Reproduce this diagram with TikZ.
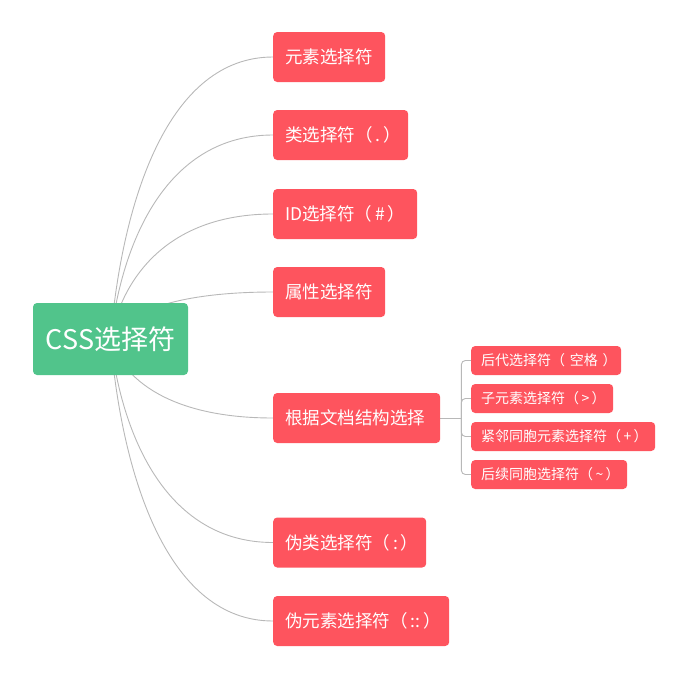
\documentclass[tikz,border=0pt]{standalone}
\usepackage{fontspec}
\setmainfont{Noto Sans CJK SC}
\usetikzlibrary{calc}
\definecolor{nodered}{RGB}{254,84,94}
\definecolor{rootgreen}{RGB}{81,196,139}
\definecolor{linegray}{RGB}{184,184,184}
\pgfdeclarelayer{bg}
\pgfsetlayers{bg,main}
\begin{document}
\begin{tikzpicture}[x=1pt,y=-1pt,
  rootbox/.style={fill=rootgreen,text=white,rounded corners=4pt,minimum width=155pt,minimum height=72pt,inner sep=0pt,font=\fontsize{27}{30}\selectfont},
  mainbox/.style={fill=nodered,text=white,rounded corners=4pt,minimum height=50pt,inner xsep=12pt,inner ysep=0pt,align=left,anchor=west,font=\fontsize{17.5}{20}\selectfont},
  subbox/.style={fill=nodered,text=white,rounded corners=4pt,minimum height=29pt,inner xsep=10pt,inner ysep=0pt,align=left,anchor=west,font=\fontsize{14}{16}\selectfont},
  conn/.style={draw=linegray,line width=0.9pt}]
\useasboundingbox (0,0) rectangle (691,683);
\node[rootbox] (root) at (110.5,339) {CSS选择符};
\node[mainbox,text width=88pt] (b1) at (273,57) {元素选择符};
\node[mainbox,text width=111pt] (b2) at (273,135) {类选择符（\,.\,）};
\node[mainbox,text width=120pt] (b3) at (273,214) {ID选择符（\,\#\,）};
\node[mainbox,text width=88pt] (b4) at (273,292) {属性选择符};
\node[mainbox,text width=143pt] (b5) at (273,418) {根据文档结构选择};
\node[mainbox,text width=129pt] (b6) at (273,542.5) {伪类选择符（\,:\,）};
\node[mainbox,text width=152pt] (b7) at (273,621) {伪元素选择符（\,::\,）};
\node[subbox,text width=130pt] (s1) at (471,360.5) {后代选择符（~空格~）};
\node[subbox,text width=122pt] (s2) at (471,398.5) {子元素选择符（\,>\,）};
\node[subbox,text width=164pt] (s3) at (471,436.5) {紧邻同胞元素选择符（\,+\,）};
\node[subbox,text width=136pt] (s4) at (471,474.5) {后续同胞选择符（\,\textasciitilde\,）};
\coordinate (j) at ($(b5.east)+(21,0)$);
\begin{pgfonlayer}{bg}
\foreach \n in {b1,b2,b3,b4,b5,b6,b7}{
  \draw[conn] (root.center) .. controls ($(root.center)!0.5!(root.center |- \n.west)+(12,0)$) and ($(root.center |- \n.west)!0.36!(\n.west)$) .. (\n.west);
}
\draw[conn] (b5.east) -- (j);
\foreach \n in {s1,s2,s3,s4}{
  \draw[conn,rounded corners=4pt] (j) |- (\n.west);
}
\end{pgfonlayer}
\end{tikzpicture}
\end{document}
